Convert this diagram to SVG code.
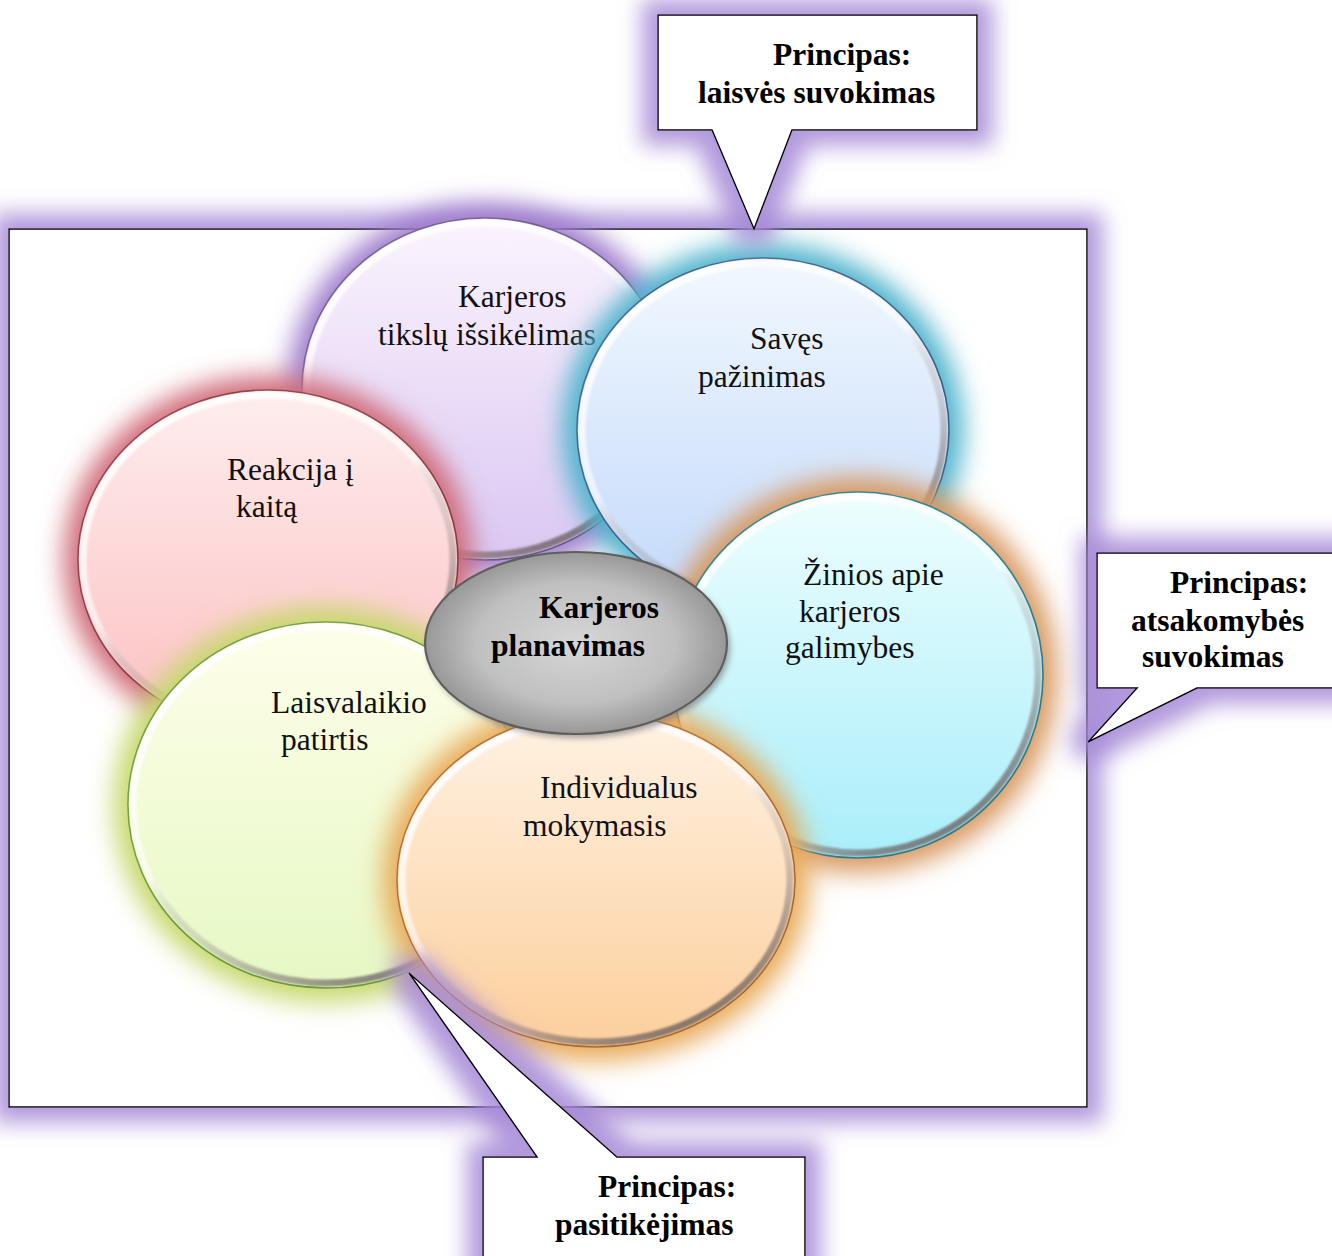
<svg xmlns="http://www.w3.org/2000/svg" width="1332" height="1256" viewBox="0 0 1332 1256">
<defs>
  <filter id="pglow" x="-20%" y="-20%" width="140%" height="140%">
    <feMorphology in="SourceAlpha" operator="dilate" radius="15" result="d"/>
    <feGaussianBlur in="d" stdDeviation="11" result="b"/>
    <feFlood flood-color="#a488d6" flood-opacity="0.85"/>
    <feComposite in2="b" operator="in" result="g"/>
    <feMerge><feMergeNode in="g"/><feMergeNode in="SourceGraphic"/></feMerge>
  </filter>
  <filter id="blur" x="-30%" y="-30%" width="160%" height="160%">
    <feGaussianBlur stdDeviation="13"/>
  </filter>
  <filter id="soft" x="-10%" y="-10%" width="120%" height="120%">
    <feGaussianBlur stdDeviation="1.3"/>
  </filter>
  <filter id="shadow" x="-20%" y="-20%" width="140%" height="140%">
    <feGaussianBlur stdDeviation="3"/>
  </filter>
  <linearGradient id="bevel" x1="0.2" y1="0" x2="0.8" y2="1">
    <stop offset="0" stop-color="#ffffff" stop-opacity="1"/>
    <stop offset="0.45" stop-color="#ffffff" stop-opacity="0.55"/>
    <stop offset="0.62" stop-color="#8a8080" stop-opacity="0.25"/>
    <stop offset="1" stop-color="#5a5050" stop-opacity="0.85"/>
  </linearGradient>
  <linearGradient id="gPurple" x1="0" y1="0" x2="0" y2="1">
    <stop offset="0" stop-color="#fbf4fd"/><stop offset="1" stop-color="#dac7f2"/>
  </linearGradient>
  <linearGradient id="gBlue" x1="0" y1="0" x2="0" y2="1">
    <stop offset="0" stop-color="#f2f8fe"/><stop offset="1" stop-color="#c3d9fa"/>
  </linearGradient>
  <linearGradient id="gRed" x1="0" y1="0" x2="0" y2="1">
    <stop offset="0" stop-color="#feeeee"/><stop offset="1" stop-color="#fcc0c2"/>
  </linearGradient>
  <linearGradient id="gCyan" x1="0" y1="0" x2="0" y2="1">
    <stop offset="0" stop-color="#eefefe"/><stop offset="1" stop-color="#a9eefa"/>
  </linearGradient>
  <linearGradient id="gGreen" x1="0" y1="0" x2="0" y2="1">
    <stop offset="0" stop-color="#fefeea"/><stop offset="1" stop-color="#e6f8c4"/>
  </linearGradient>
  <linearGradient id="gOrange" x1="0" y1="0" x2="0" y2="1">
    <stop offset="0" stop-color="#fff2e4"/><stop offset="1" stop-color="#fccf9c"/>
  </linearGradient>
  <radialGradient id="gGray" cx="0.5" cy="0.5" r="0.55">
    <stop offset="0" stop-color="#d6d6d6"/><stop offset="0.6" stop-color="#c0c0c0"/><stop offset="1" stop-color="#8c8c8c"/>
  </radialGradient>
  <style>
    .t { font-family: "Liberation Serif", "Times New Roman", serif; font-size: 31.5px; fill: #111; }
    .b { font-family: "Liberation Serif", "Times New Roman", serif; font-size: 31.5px; font-weight: bold; fill: #000; }
    .frame { fill: #ffffff; stroke: #000; stroke-width: 1.5; }
    .call { fill: #ffffff; stroke: #000; stroke-width: 1.5; }
    .rim { fill: none; stroke: url(#bevel); stroke-width: 7; }
  </style>
</defs>

<rect width="1332" height="1256" fill="#ffffff"/>

<g id="frame">
  <rect class="frame" x="9" y="229" width="1078" height="878" filter="url(#pglow)"/>
</g>

<g id="node-tikslai">
  <ellipse cx="485" cy="389" rx="197" ry="185" fill="#9f7ccc" filter="url(#blur)"/>
  <ellipse cx="485" cy="389" rx="183" ry="171" fill="url(#gPurple)" stroke="#6a5a8c" stroke-width="1.6"/>
  <ellipse class="rim" cx="485" cy="389" rx="178" ry="166" filter="url(#soft)"/>
  <text class="t" x="458" y="307">Karjeros</text>
  <text class="t" x="378" y="345">tikslų išsikėlimas</text>
</g>

<g id="node-saves">
  <ellipse cx="763" cy="430" rx="200" ry="186" fill="#4cb2cc" filter="url(#blur)"/>
  <ellipse cx="763" cy="430" rx="186" ry="172" fill="url(#gBlue)" stroke="#3c5f86" stroke-width="1.6"/>
  <ellipse class="rim" cx="763" cy="430" rx="181" ry="167" filter="url(#soft)"/>
  <text class="t" x="750" y="349">Savęs</text>
  <text class="t" x="698" y="387">pažinimas</text>
</g>

<g id="node-reakcija">
  <ellipse cx="268" cy="560" rx="204" ry="184" fill="#d06a78" filter="url(#blur)"/>
  <ellipse cx="268" cy="560" rx="190" ry="170" fill="url(#gRed)" stroke="#8a3a40" stroke-width="1.6"/>
  <ellipse class="rim" cx="268" cy="560" rx="185" ry="165" filter="url(#soft)"/>
  <text class="t" x="227" y="480">Reakcija į</text>
  <text class="t" x="236" y="517">kaitą</text>
</g>

<g id="node-zinios">
  <ellipse cx="858" cy="675" rx="199" ry="197" fill="#d8985e" filter="url(#blur)"/>
  <ellipse cx="858" cy="675" rx="185" ry="183" fill="url(#gCyan)" stroke="#2f7a86" stroke-width="1.6"/>
  <ellipse class="rim" cx="858" cy="675" rx="180" ry="178" filter="url(#soft)"/>
  <text class="t" x="803" y="585">Žinios apie</text>
  <text class="t" x="799" y="622">karjeros</text>
  <text class="t" x="785" y="658">galimybes</text>
</g>

<g id="node-laisvalaikis">
  <ellipse cx="326" cy="805" rx="212" ry="197" fill="#c6d86a" filter="url(#blur)"/>
  <ellipse cx="326" cy="805" rx="198" ry="183" fill="url(#gGreen)" stroke="#6c9a3a" stroke-width="1.6"/>
  <ellipse class="rim" cx="326" cy="805" rx="193" ry="178" filter="url(#soft)"/>
  <text class="t" x="271" y="713">Laisvalaikio</text>
  <text class="t" x="281" y="750">patirtis</text>
</g>

<g id="node-individualus">
  <ellipse cx="596" cy="880" rx="213" ry="181" fill="#e8aa58" filter="url(#blur)"/>
  <ellipse cx="596" cy="880" rx="199" ry="167" fill="url(#gOrange)" stroke="#b2682c" stroke-width="1.6"/>
  <ellipse class="rim" cx="596" cy="880" rx="194" ry="162" filter="url(#soft)"/>
  <text class="t" x="540" y="798">Individualus</text>
  <text class="t" x="523" y="836">mokymasis</text>
</g>

<g id="node-center">
  <ellipse cx="579" cy="647" rx="151" ry="91" fill="#7a7a7a" opacity="0.7" filter="url(#shadow)"/>
  <ellipse cx="576" cy="643" rx="151" ry="91" fill="url(#gGray)" stroke="#5e5e5e" stroke-width="2.2"/>
  <text class="b" x="539" y="618">Karjeros</text>
  <text class="b" x="491" y="656">planavimas</text>
</g>

<g id="connectors">
  <g id="callout-top">
    <path class="call" d="M658,15 H977 V130 H792 L754,229 L712,130 H658 Z" filter="url(#pglow)"/>
    <text class="b" x="773" y="65">Principas:</text>
    <text class="b" x="698" y="103">laisvės suvokimas</text>
  </g>
  <g id="callout-right">
    <path class="call" d="M1097,553 H1370 V688 H1197 L1088,742 L1137,688 H1097 Z" filter="url(#pglow)"/>
    <text class="b" x="1170" y="593">Principas:</text>
    <text class="b" x="1131" y="631">atsakomybės</text>
    <text class="b" x="1142" y="667">suvokimas</text>
  </g>
  <g id="callout-bottom">
    <path class="call" d="M483,1157 H537 L409,973 L617,1157 H805 V1280 H483 Z" filter="url(#pglow)"/>
    <text class="b" x="598" y="1197">Principas:</text>
    <text class="b" x="555" y="1235">pasitikėjimas</text>
  </g>
</g>
</svg>
